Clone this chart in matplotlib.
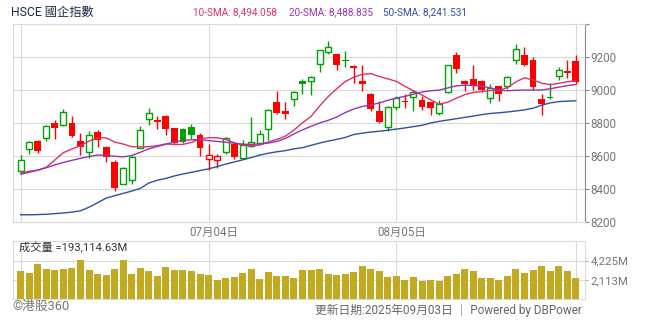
import matplotlib
matplotlib.use('Agg')
import matplotlib.pyplot as plt
from matplotlib.transforms import ScaledTranslation

plt.rcParams['font.family'] = ['Roboto', 'Noto Sans CJK TC', 'DejaVu Sans']

# daily candles, 2025-06-03 .. 2025-09-03
opens = [8509, 8642, 8693, 8709, 8800, 8786, 8800, 8693, 8624, 8745,
         8657, 8560, 8430, 8455, 8649, 8824, 8816, 8844, 8770, 8766,
         8776, 8729, 8582, 8572, 8622, 8673, 8588, 8659, 8679, 8764,
         8929, 8875, 8945, 9055, 9053, 9156, 9230, 9218, 9184, 9145,
         9057, 8978, 8875, 8776, 8897, 8929, 8958, 8937, 8925, 8859,
         8988, 9214, 9057, 9065, 9057, 8950, 9024, 9024, 9182, 9212,
         9182, 8945, 8960, 9085, 9117, 9176]
highs = [8608, 8690, 8697, 8786, 8820, 8887, 8844, 8739, 8754, 8760,
         8663, 8572, 8530, 8598, 8784, 8893, 8844, 8846, 8772, 8770,
         8796, 8739, 8675, 8614, 8715, 8679, 8699, 8836, 8760, 8885,
         8996, 8929, 8992, 9069, 9085, 9245, 9299, 9220, 9236, 9152,
         9150, 8980, 8935, 8905, 8962, 8978, 9002, 8962, 8927, 8939,
         9155, 9234, 9060, 9154, 9060, 9036, 9026, 9085, 9279, 9261,
         9200, 8978, 9042, 9139, 9182, 9216]
lows = [8505, 8612, 8616, 8689, 8703, 8780, 8713, 8608, 8588, 8653,
        8562, 8386, 8428, 8430, 8645, 8788, 8764, 8727, 8672, 8676,
        8704, 8598, 8513, 8527, 8612, 8582, 8582, 8655, 8675, 8699,
        8855, 8826, 8901, 8978, 8972, 9113, 9218, 9125, 9143, 9046,
        8992, 8871, 8800, 8750, 8877, 8893, 8871, 8881, 8847, 8847,
        8980, 9107, 8992, 9002, 8986, 8919, 8931, 9004, 9156, 9148,
        9002, 8847, 8943, 9059, 9071, 9036]
closes = [8574, 8685, 8628, 8782, 8768, 8867, 8723, 8653, 8727, 8695,
          8594, 8404, 8527, 8594, 8758, 8863, 8808, 8764, 8676, 8683,
          8725, 8647, 8606, 8600, 8709, 8592, 8667, 8685, 8733, 8879,
          8859, 8853, 8988, 9040, 9079, 9242, 9261, 9150, 9174, 9137,
          9040, 8883, 8804, 8899, 8952, 8925, 8986, 8895, 8889, 8915,
          9152, 9129, 9040, 9032, 8998, 9010, 8974, 9079, 9248, 9150,
          9018, 8913, 8952, 9121, 9107, 9048]
prev_close = 8500

sma10 = [8494, 8507, 8512, 8531, 8575, 8620, 8642, 8662, 8690, 8710,
         8710, 8684, 8672, 8656, 8655, 8656, 8662, 8673, 8669, 8670,
         8682, 8703, 8711, 8710, 8700, 8680, 8667, 8661, 8666, 8685,
         8700, 8720, 8757, 8801, 8840, 8903, 8960, 9008, 9052, 9078,
         9096, 9100, 9083, 9068, 9053, 9023, 8996, 8970, 8941, 8915,
         8926, 8950, 8972, 8986, 8991, 8998, 8998, 9015, 9050, 9075,
         9062, 9042, 9033, 9041, 9051, 9057]
sma20 = [8489, 8500, 8514, 8528, 8545, 8560, 8573, 8585, 8596, 8605,
         8603, 8598, 8594, 8602, 8622, 8643, 8657, 8671, 8684, 8694,
         8698, 8699, 8693, 8688, 8683, 8677, 8671, 8670, 8673, 8678,
         8688, 8706, 8733, 8758, 8780, 8800, 8816, 8836, 8863, 8885,
         8900, 8910, 8922, 8938, 8952, 8962, 8975, 8988, 8996, 9000,
         9013, 9026, 9030, 9029, 9024, 9013, 9000, 8996, 8999, 9000,
         9000, 9001, 9008, 9018, 9027, 9034]
sma50 = [8242, 8242, 8243, 8245, 8249, 8253, 8258, 8266, 8288, 8315,
         8343, 8358, 8372, 8386, 8402, 8435, 8452, 8463, 8478, 8490,
         8500, 8511, 8521, 8535, 8550, 8563, 8576, 8590, 8605, 8616,
         8625, 8632, 8643, 8650, 8664, 8678, 8690, 8700, 8712, 8730,
         8738, 8745, 8750, 8756, 8763, 8770, 8778, 8786, 8800, 8810,
         8818, 8826, 8834, 8842, 8851, 8858, 8862, 8867, 8873, 8880,
         8890, 8908, 8922, 8930, 8933, 8935]

# turnover, millions
volumes = [3142, 2925, 3900, 3358, 3250, 3358, 3467, 4300, 3250, 2817,
           2708, 3358, 4300, 2817, 3467, 3142, 2600, 3575, 3250, 3250,
           3142, 2817, 2708, 2058, 2383, 2492, 2925, 3358, 2275, 3033,
           2600, 2600, 2383, 3250, 3250, 3358, 2817, 2708, 2817, 3033,
           3683, 3358, 3142, 2492, 2600, 2058, 2492, 1950, 2058, 1950,
           2600, 2817, 3358, 3142, 2383, 2383, 2167, 2600, 3358, 2925,
           3250, 3683, 3142, 3683, 3142, 2383]

grid_idx = [0, 22, 44, 65]
grid_labels = ['', '07月04日', '08月05日', '']
price_ticks = [8200, 8400, 8600, 8800, 9000, 9200, 9400]
price_labels = ['8200', '8400', '8600', '8800', '9000', '9200', '']
vol_ticks = [2113, 4225]
vol_labels = ['2,113M', '4,225M']

title = 'HSCE 國企指數'
sma_texts = ['10-SMA: 8,494.058', '20-SMA: 8,488.835', '50-SMA: 8,241.531']
vol_text = '成交量 =193,114.63M'
footer_left = '©港股360'
footer_right = '更新日期:2025年09月03日 ｜ Powered by DBPower'

UP = '#00a000'
DOWN = '#ff0000'
SMA_COLORS = ['#e0306a', '#9435b0', '#2f4fa6']
GRID = '#dadada'
W, H = 654, 325

fig = plt.figure(figsize=(W / 100, H / 100), dpi=100)
ax = fig.add_axes([12.7 / W, 1 - 222 / H, (585 - 12.7) / W, (222 - 23.5) / H])
vax = fig.add_axes([12.7 / W, 1 - 299.3 / H, (585 - 12.7) / W, (299.3 - 240.7) / H])

x = list(range(len(closes)))

# candles
for i in x:
    o, h, l, c = opens[i], highs[i], lows[i], closes[i]
    pc = closes[i - 1] if i else prev_close
    col = UP if c >= pc else DOWN
    ax.vlines(i, l, h, color=col, lw=1, zorder=2)
    lo = min(o, c)
    hgt = max(abs(c - o), 9)
    if c < o:
        ax.bar(i, hgt, bottom=lo, width=0.8, color=col, lw=0, zorder=3)
    else:
        ax.bar(i, hgt, bottom=lo, width=0.7, facecolor='white',
               edgecolor=col, lw=1.0, zorder=3)

for s, col in zip([sma10, sma20, sma50], SMA_COLORS):
    ax.plot(x, s, color=col, lw=1.0, zorder=4)

ax.set_xlim(-0.94, 66.09)
ax.set_ylim(8198, 9405)
ax.set_yticks(price_ticks)
ax.set_yticklabels(price_labels)
ax.set_xticks(grid_idx)
ax.set_xticklabels(grid_labels)
ax.yaxis.tick_right()
ax.grid(True, color=GRID, lw=0.8, zorder=0)
ax.set_axisbelow(True)
ax.tick_params(axis='x', length=0, labelsize=8.3, labelcolor='#777', pad=3)
ax.tick_params(axis='y', length=3, color='#888', labelsize=8.4,
               labelcolor='#777', pad=1)
for side in ['left', 'top', 'bottom']:
    ax.spines[side].set_color(GRID)
ax.spines['right'].set_color('#888')

shift = ScaledTranslation(5 / 100, 0, fig.dpi_scale_trans)
for lbl in ax.get_xticklabels():
    lbl.set_transform(lbl.get_transform() + shift)

# volume panel
vax.bar(x, volumes, width=0.82, color='#c3a920', zorder=2)
vax.set_xlim(-0.94, 66.09)
vax.set_ylim(0, 6414)
vax.set_yticks(vol_ticks)
vax.set_yticklabels(vol_labels)
vax.set_xticks(grid_idx)
vax.set_xticklabels([])
vax.yaxis.tick_right()
vax.grid(True, color=GRID, lw=0.8, zorder=0)
vax.set_axisbelow(True)
vax.tick_params(axis='x', length=0)
vax.tick_params(axis='y', length=2, color='#aaa', labelsize=8.2,
                labelcolor='#777', pad=2)
for side in vax.spines:
    vax.spines[side].set_color(GRID)

# texts
fig.text(11 / W, 1 - 12 / H, title, fontsize=8.8, color='#1c2b4a', va='center')
for xp, t, col in zip([192.7, 288.7, 383.3], sma_texts, SMA_COLORS):
    fig.text(xp / W, 1 - 12.5 / H, t, fontsize=7.2, color=col, va='center')
fig.text(19.3 / W, 1 - 247.5 / H, vol_text, fontsize=8.1, color='#333', va='center')
fig.text(12.5 / W, 1 - 306 / H, footer_left, fontsize=9.2, color='#777', va='center')
fig.text(582 / W, 1 - 310 / H, footer_right, fontsize=8.5, color='#666',
         va='center', ha='right')

fig.savefig('out.png', dpi=100)
